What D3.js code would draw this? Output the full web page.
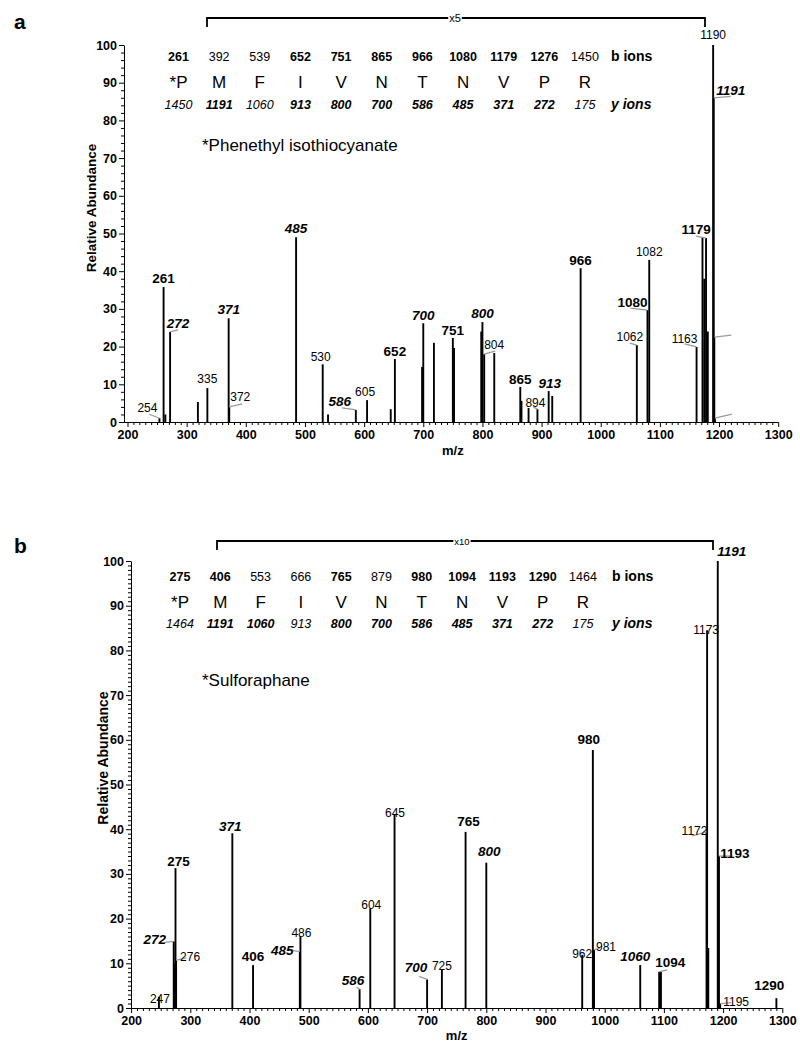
<!DOCTYPE html>
<html><head><meta charset="utf-8">
<script src="https://cdn.jsdelivr.net/npm/d3@7"></script>
<style>
body{margin:0;background:#fff}
svg{display:block;font-family:"Liberation Sans",Arial,sans-serif}
</style>
</head><body><svg id="c" width="800" height="1042"></svg>
<script>
// ===== Panel a : Phenethyl isothiocyanate =====
const mzA  = [254,261,264,272,319,335,371,372,485,530,539,586,605,645,652,698,700,718,750,752,798,800,803,820,864,866,878,893,912,918,966,1061,1079,1082,1162,1172,1175,1178,1181,1190,1191,1192,1193];
const intA = [1,35.8,2,23.9,5.3,9,27.5,4,49,15.3,2,3.2,5.8,3.4,16.7,14.6,26.2,21,22.3,19.6,24,26.5,18,18.3,9.3,5.6,3.7,3.4,8.2,6.9,40.8,20.4,29.7,43,19.9,49,38,48.8,24,100,86,22.5,1];
const labTextA = ["254","261","272","335","371","372","485","530","586","605","652","700","751","800","804","865","894","913","966","1062","1080","1082","1163","1179","1190","1191","",""];
const labMzA   = [254,261,272,335,371,372,485,530,586,605,652,700,750,800,803,864,893,912,966,1061,1079,1082,1162,1178,1190,1191,1192,1193];
const labIonA  = ["","b","y","","y","","y","","y","","b","y","b","y","","b","","y","b","","b","","","b","","y","",""];
const bIonsA   = ["261","392","539","652","751","865","966","1080","1179","1276","1450"];
const bBoldA   = [1,0,0,1,1,1,1,1,1,1,0];
const residues = ["*P","M","F","I","V","N","T","N","V","P","R"];
const yIonsA   = ["1450","1191","1060","913","800","700","586","485","371","272","175"];
const yBoldA   = [0,1,0,1,1,1,1,1,1,1,0];
const titleA = "*Phenethyl isothiocyanate";
const zoomA = "x5";

// ===== Panel b : Sulforaphane =====
const mzB  = [247,272,274,275,276,371,406,485,486,586,604,645,700,725,765,800,962,980,982,1060,1092,1095,1172,1173,1175,1191,1192,1193,1195,1290];
const intB = [2.5,14.9,10,31.3,10.7,39.1,9.6,12.6,16,4.2,22.3,43.2,6.4,8.5,39.4,32.5,11.9,57.7,13,9.6,8.1,8.1,39.4,84.5,13.4,100,34,34,1,2.2];
const labTextB = ["247","272","275","276","371","406","485","486","586","604","645","700","725","765","800","962","980","981","1060","1094","1172","1173","1191","1193","1195","1290"];
const labMzB   = [247,272,275,276,371,406,485,486,586,604,645,700,725,765,800,962,980,982,1060,1092,1172,1173,1191,1193,1195,1290];
const labIonB  = ["","y","b","","y","b","y","","y","","","y","","b","y","","b","","y","b","","","y","b","","b"];
const bIonsB   = ["275","406","553","666","765","879","980","1094","1193","1290","1464"];
const bBoldB   = [1,1,0,0,1,0,1,1,1,1,0];
const yIonsB   = ["1464","1191","1060","913","800","700","586","485","371","272","175"];
const yBoldB   = [0,1,1,0,1,1,1,1,1,1,0];
const titleB = "*Sulforaphane";
const zoomB = "x10";

const xTicks = [200,300,400,500,600,700,800,900,1000,1100,1200,1300];
const yTicks = [0,10,20,30,40,50,60,70,80,90,100];

// ===== layout (positions only) =====
// label offsets from peak top: [dx, dy, leaderDx, leaderDy]
const layA = {
 "254":[-12,-6,-10,-4],"261":[0,-4],"272":[8,-4,8,-2],"335":[0,-5],"371":[0,-4],"372":[11,-6,13,-3],
 "485":[0,-4],"530":[-2,-3],"586":[-16,-4,-14,-2],"605":[-2,-4],"652":[0,-3],"700":[0,-3],"751":[0,-3],
 "800":[0,-4],"804":[10,-5,11,-3],"865":[0,-3],"894":[-2,-2,-4,-2],"913":[1,-3],"966":[0,-3],
 "1062":[-7,-4,-7,-2],"1080":[-15,-3,-17,-2],"1082":[0,-4],"1163":[-12,-4,-12,-3],"1179":[-10,-4,-10,-2],
 "1190":[0,-6],"1191":[17,-3,17,-1.5],"1192":[0,0,17,-2],"1193":[0,0,17,-4]
};
const layB = {
 "247":[1,6],"272":[-19,3,-9,1],"275":[3,-2],"276":[14,1,10,-2],"371":[-2,-2],"406":[0,-4],
 "485":[-17.5,3,-13,-2],"486":[1,1],"586":[-6.5,-4.5,-3,-2],"604":[1,1],"645":[0.5,2],"700":[-11,-7,-8,-3],
 "725":[0,0],"765":[3,-6],"800":[3,-7],"962":[0,3],"980":[-4,-6],"981":[12,1,6,-2],"1060":[-5,-4],
 "1094":[11,-5,8,-2],"1172":[-12,3,-14,4],"1173":[-1,4],"1191":[14,-5],"1193":[16,2,12,0],
 "1195":[16,2,11,-1],"1290":[-7,-8]
};

const svg = d3.select("#c");

function panel(cfg){
  const g = svg.append("g");
  const x = d3.scaleLinear().domain([200,1300]).range([cfg.x0, cfg.x1]);
  const y = d3.scaleLinear().domain([0,100]).range([cfg.y0, cfg.y1]);

  g.append("text").attr("x",14).attr("y",cfg.letterY).attr("font-size",21).attr("font-weight","bold").text(cfg.letter);

  const xMinor = d3.range(200,1301,10).filter(v=>v%100!==0);
  g.append("g").attr("transform",`translate(0,${cfg.y0})`)
    .call(d3.axisBottom(x).tickValues(xMinor).tickSize(3).tickFormat(""))
    .call(a=>a.select(".domain").remove());
  const xa = g.append("g").attr("transform",`translate(0,${cfg.y0})`)
    .call(d3.axisBottom(x).tickValues(xTicks).tickSize(5).tickSizeOuter(0).tickPadding(3).tickFormat(d3.format("d")));
  xa.select(".domain").attr("d",`M${cfg.axX},0.5H${cfg.x1}`);
  xa.selectAll("text").attr("font-size",12.5).attr("font-weight","bold").attr("font-family","Liberation Sans, Arial, sans-serif");

  const yMinor = d3.range(0,101,cfg.yMinorStep).filter(v=>v%10!==0);
  g.append("g").attr("transform",`translate(${cfg.axX},0)`)
    .call(d3.axisLeft(y).tickValues(yMinor).tickSize(3).tickFormat(""))
    .call(a=>a.select(".domain").remove());
  const ya = g.append("g").attr("transform",`translate(${cfg.axX},0)`)
    .call(d3.axisLeft(y).tickValues(yTicks).tickSize(5).tickSizeOuter(0).tickPadding(2).tickFormat(d3.format("d")));
  ya.selectAll("text").attr("font-size",12.5).attr("font-weight","bold").attr("font-family","Liberation Sans, Arial, sans-serif");

  g.append("text").attr("transform",`translate(${cfg.yTitleX},${cfg.yTitleY}) rotate(-90)`)
    .attr("text-anchor","middle").attr("font-size",cfg.yTitleSize).attr("font-weight","bold").text("Relative Abundance");
  g.append("text").attr("x",x(750)).attr("y",cfg.mzY).attr("text-anchor","middle")
    .attr("font-size",13).attr("font-weight","bold").text("m/z");

  g.append("g").selectAll("line").data(cfg.mz.map((m,i)=>({m,v:cfg.int[i]}))).join("line")
    .attr("x1",d=>x(d.m)).attr("x2",d=>x(d.m)).attr("y1",y(0)).attr("y2",d=>y(d.v))
    .attr("stroke","#000").attr("stroke-width",1.9);

  const labs = cfg.labText.map((t,i)=>{
    const m = cfg.labMz[i];
    const v = cfg.int[cfg.mz.indexOf(m)];
    const key = t===""? String(m) : t;
    return {t, m, v, ion:cfg.labIon[i], off:cfg.lay[key]};
  });
  labs.forEach(d=>{
    const px = x(d.m), py = y(d.v);
    const o = d.off || [0,-4];
    if (o.length>2){
      g.append("line").attr("x1",px).attr("y1",py).attr("x2",px+o[2]).attr("y2",py+o[3])
        .attr("stroke","#9a9a9a").attr("stroke-width",1.3);
    }
    if (d.t!==""){
      const tx = g.append("text").attr("x",px+o[0]).attr("y",py+o[1]).attr("text-anchor","middle").text(d.t);
      if (d.ion==="b") tx.attr("font-size",13.5).attr("font-weight","bold");
      else if (d.ion==="y") tx.attr("font-size",13.5).attr("font-weight","bold").attr("font-style","italic");
      else tx.attr("font-size",12);
    }
  });

  // zoom bracket
  const bx0 = cfg.brX0, bx1 = cfg.brX1, by = cfg.brY;
  g.append("path").attr("d",`M${bx0},${by+9}V${by}H${bx1}V${by+9}`).attr("fill","none").attr("stroke","#000").attr("stroke-width",1.8);
  const bg = g.append("rect").attr("fill","#fff");
  const zt = g.append("text").attr("x",cfg.brTX).attr("y",by+3.5).attr("text-anchor","middle")
    .attr("font-size",cfg.brFont).text(cfg.zoom);
  const bb = zt.node().getBBox();
  bg.attr("x",bb.x-1).attr("y",by-2).attr("width",bb.width+2).attr("height",4);

  // ion table
  const colX = i => cfg.col0 + i*cfg.colStep;
  const tf = '"Liberation Sans Narrow","Arial Narrow","Liberation Sans",Arial,sans-serif';
  cfg.bIons.forEach((t,i)=>{
    g.append("text").attr("x",colX(i)).attr("y",cfg.rowB).attr("text-anchor","middle")
      .attr("font-family",tf).attr("font-size",12.5).attr("font-weight",cfg.bBold[i]?"bold":"normal").text(t);
  });
  residues.forEach((t,i)=>{
    g.append("text").attr("x",colX(i)).attr("y",cfg.rowR).attr("text-anchor","middle")
      .attr("font-family",tf).attr("font-size",17).text(t);
  });
  cfg.yIons.forEach((t,i)=>{
    g.append("text").attr("x",colX(i)).attr("y",cfg.rowY).attr("text-anchor","middle")
      .attr("font-family",tf).attr("font-size",12.5).attr("font-style","italic").attr("font-weight",cfg.yBold[i]?"bold":"normal").text(t);
  });
  g.append("text").attr("x",cfg.ionLabX).attr("y",cfg.rowB).attr("font-size",14).attr("font-weight","bold").text("b ions");
  g.append("text").attr("x",cfg.ionLabX).attr("y",cfg.rowY).attr("font-size",14).attr("font-weight","bold").attr("font-style","italic").text("y ions");

  g.append("text").attr("x",202).attr("y",cfg.titleY).attr("font-size",17).text(cfg.title);
}

panel({letter:"a",letterY:29,x0:127.5,x1:778.2,axX:124,y0:422,y1:45,yMinorStep:2,
  yTitleX:96,yTitleY:208,yTitleSize:13.5,mzY:455,
  mz:mzA,int:intA,labText:labTextA,labMz:labMzA,labIon:labIonA,lay:layA,
  brX0:207,brX1:705,brY:18,brTX:455,brFont:11,zoom:zoomA,
  col0:178.5,colStep:40.65,rowB:61,rowR:88,rowY:109,ionLabX:611,
  bIons:bIonsA,bBold:bBoldA,yIons:yIonsA,yBold:yBoldA,title:titleA,titleY:151});

panel({letter:"b",letterY:553,x0:131.1,x1:782.3,axX:131,y0:1008,y1:561,yMinorStep:1,
  yTitleX:108,yTitleY:758,yTitleSize:14,mzY:1040,
  mz:mzB,int:intB,labText:labTextB,labMz:labMzB,labIon:labIonB,lay:layB,
  brX0:217,brX1:713,brY:541,brTX:462,brFont:9.5,zoom:zoomB,
  col0:180,colStep:40.3,rowB:581,rowR:608,rowY:628,ionLabX:612,
  bIons:bIonsB,bBold:bBoldB,yIons:yIonsB,yBold:yBoldB,title:titleB,titleY:686});
</script>
</body></html>
